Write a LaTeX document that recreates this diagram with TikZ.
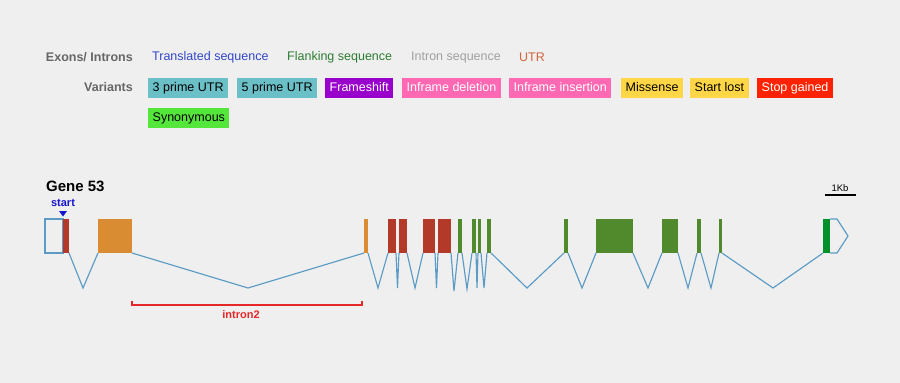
\documentclass[tikz,border=0pt]{standalone}
\usepackage{fontspec}
\setmainfont{Liberation Sans}
\usepackage{tikz}
\usetikzlibrary{positioning}

\definecolor{bgcol}{HTML}{EFEFEF}
\definecolor{headgray}{HTML}{666666}
\definecolor{transblue}{HTML}{3246C8}
\definecolor{flankgreen}{HTML}{2E7D32}
\definecolor{introngray}{HTML}{A0A0A0}
\definecolor{utrorange}{HTML}{D2643C}
\definecolor{vteal}{HTML}{6BBFC7}
\definecolor{vpurple}{HTML}{9900CC}
\definecolor{vpink}{HTML}{FF69B4}
\definecolor{vyellow}{HTML}{FFD746}
\definecolor{vred}{HTML}{FF2200}
\definecolor{vgreen}{HTML}{55E63C}
\definecolor{exred}{HTML}{B33A28}
\definecolor{exorange}{HTML}{D98C32}
\definecolor{exgreen}{HTML}{508A2D}
\definecolor{exdkgreen}{HTML}{00912A}
\definecolor{intronline}{HTML}{5B9BC4}
\definecolor{startblue}{HTML}{1515D0}
\definecolor{bracketred}{HTML}{E62828}

\begin{document}
\begin{tikzpicture}[x=1pt,y=-1pt,
    legendhead/.style={inner sep=0, font=\fontsize{12.5}{14}\selectfont\bfseries, text=headgray},
    legenditem/.style={inner sep=0, anchor=west, font=\fontsize{12.5}{14}\selectfont},
    variant/.style={anchor=west, inner xsep=4.5pt, inner ysep=0, minimum height=20pt,
        text height=9pt, text depth=2.5pt, font=\fontsize{12.5}{14}\selectfont},
    exon/.style={inner sep=0, outer sep=0, minimum height=34pt, anchor=north west},
    intron/.style={draw=intronline, line width=1.15pt}]
    \fill [bgcol] (0,0) rectangle (900,383);
    \useasboundingbox (0,0) rectangle (900,383);

    % legend
    \node [legendhead, anchor=east] (exhead) at (133,57) {Exons/ Introns};
    \node [legendhead, anchor=east] (varhead) at (133,87) {Variants};
    \node [legenditem, text=transblue] (translated) at (152,57) {Translated sequence};
    \node [legenditem, text=flankgreen] (flanking) at (287,57) {Flanking sequence};
    \node [legenditem, text=introngray] (intronseq) at (411,57) {Intron sequence};
    \node [legenditem, text=utrorange] (utr) at (519,57) {UTR};

    \foreach \n/\x/\y/\c/\t/\s in {threeutr/148/88/vteal/black/3 prime UTR,
        fiveutr/237/88/vteal/black/5 prime UTR,
        frameshift/325/88/vpurple/white/Frameshift,
        infdel/402/88/vpink/white/Inframe deletion,
        infins/509/88/vpink/white/Inframe insertion,
        missense/621/88/vyellow/black/Missense,
        startlost/690/88/vyellow/black/Start lost,
        stopgained/757/88/vred/white/Stop gained,
        synonymous/148/118/vgreen/black/Synonymous}
    {
        \node [variant, fill=\c, text=\t] (\n) at (\x,\y) {\s};
    }

    % gene model
    \node [inner sep=0, anchor=west, font=\fontsize{15}{17}\selectfont\bfseries] (gene) at (46,186) {Gene 53};
    \node [inner sep=0, font=\fontsize{11}{13}\selectfont\bfseries, text=startblue] (start) at (63,203) {start};
    \fill [startblue] (59,211) -- (67,211) -- (63,216.5) -- cycle;

    \node [inner sep=0, font=\fontsize{9.5}{11}\selectfont] (kb) at (840,188) {1Kb};
    \draw [line width=2pt] (825,195) -- (856,195);

    \node [exon, draw=intronline, line width=1.15pt, minimum width=18pt] (u1) at (45,219) {};
    \foreach \n/\a/\b/\c in {e1/63/69/exred, e2/98/132/exorange, e3/364/368/exorange,
        e4/388/396/exred, e5/399/407/exred, e6/423/435/exred, e7/438/451/exred,
        e8/458/462/exgreen, e9/472/476/exgreen, e10/478/481/exgreen, e11/487/491/exgreen,
        e12/564/568/exgreen, e13/596/633/exgreen, e14/662/678/exgreen,
        e15/697/701/exgreen, e16/719/722/exgreen, e17/823/830/exdkgreen}
    {
        \node [exon, fill=\c, minimum width=\b pt-\a pt] (\n) at (\a,219) {};
    }
    \draw [intron] (e17.north east) -- ++(7,0) -- ++(11,17) -- ++(-11,17) -- (e17.south east);

    \foreach \p/\q/\x/\y in {e1/e2/83/288, e2/e3/248/288, e3/e4/378/288, e4/e5/397.5/288,
        e5/e6/415/288, e6/e7/436.5/288, e7/e8/454/291, e8/e9/467/289, e9/e10/477/288,
        e10/e11/484/288, e11/e12/527/288, e12/e13/582/288, e13/e14/648/288,
        e14/e15/688/288, e15/e16/711/288, e16/e17/773/288}
    {
        \coordinate (a\p) at (\x,\y);
        \draw [intron, line join=miter] (\p.south east) -- (a\p) -- (\q.south west);
    }

    % intron label
    \draw [draw=bracketred, line width=1.2pt] (132,300.5) -- (132,305) -- (362,305) -- (362,300.5);
    \node [inner sep=0, font=\fontsize{11}{13}\selectfont\bfseries, text=bracketred] (intron2) at (241,315) {intron2};
\end{tikzpicture}
\end{document}
